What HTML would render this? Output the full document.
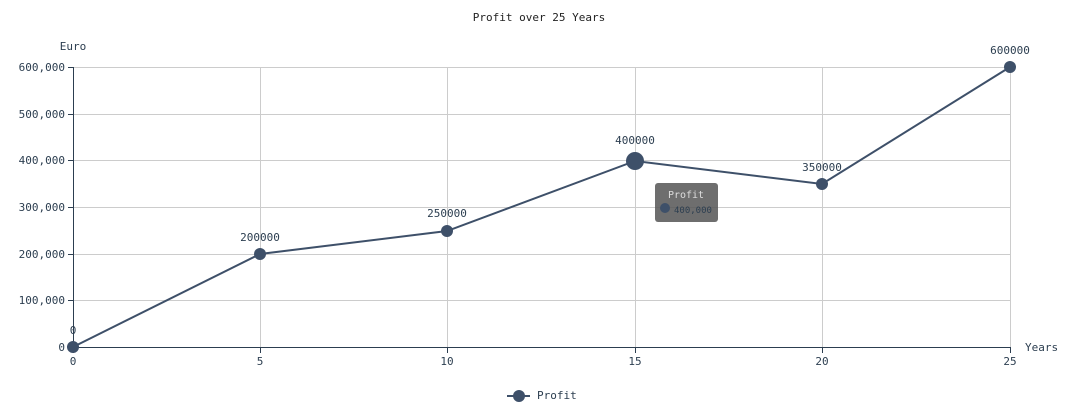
<!DOCTYPE html>
<html><head><meta charset="utf-8"><style>
body{margin:0;background:#fff}
svg{display:block;font-family:"DejaVu Sans Mono","Liberation Mono",monospace}
</style></head><body>
<svg width="1078" height="416" viewBox="0 0 1078 416">
<text x="539" y="21" font-size="11" text-anchor="middle" fill="#222">Profit over 25 Years</text>
<text x="73" y="50" font-size="11" text-anchor="middle" fill="#2c3e50">Euro</text>
<text x="1025" y="351" font-size="11" fill="#2c3e50">Years</text>
<g stroke="#ccc" stroke-width="1">
<line x1="73" y1="67.5" x2="1010" y2="67.5"/><line x1="73" y1="114.5" x2="1010" y2="114.5"/>
<line x1="73" y1="160.5" x2="1010" y2="160.5"/><line x1="73" y1="207.5" x2="1010" y2="207.5"/>
<line x1="73" y1="254.5" x2="1010" y2="254.5"/><line x1="73" y1="300.5" x2="1010" y2="300.5"/>
<line x1="260.5" y1="67" x2="260.5" y2="347"/><line x1="447.5" y1="67" x2="447.5" y2="347"/>
<line x1="635.5" y1="67" x2="635.5" y2="347"/><line x1="822.5" y1="67" x2="822.5" y2="347"/>
<line x1="1010.5" y1="67" x2="1010.5" y2="347"/>
</g>
<g stroke="#2c3e50" stroke-width="1">
<line x1="73.5" y1="67" x2="73.5" y2="348"/><line x1="73" y1="347.5" x2="1010" y2="347.5"/>
<line x1="68" y1="67.5" x2="73" y2="67.5"/><line x1="68" y1="114.5" x2="73" y2="114.5"/>
<line x1="68" y1="160.5" x2="73" y2="160.5"/><line x1="68" y1="207.5" x2="73" y2="207.5"/>
<line x1="68" y1="254.5" x2="73" y2="254.5"/><line x1="68" y1="300.5" x2="73" y2="300.5"/>
<line x1="68" y1="347.5" x2="73" y2="347.5"/>
<line x1="73.5" y1="347" x2="73.5" y2="353"/><line x1="260.5" y1="347" x2="260.5" y2="353"/>
<line x1="447.5" y1="347" x2="447.5" y2="353"/><line x1="635.5" y1="347" x2="635.5" y2="353"/>
<line x1="822.5" y1="347" x2="822.5" y2="353"/><line x1="1010.5" y1="347" x2="1010.5" y2="353"/>
</g>
<g font-size="11" fill="#2c3e50" text-anchor="end">
<text x="65" y="71">600,000</text><text x="65" y="118">500,000</text><text x="65" y="164">400,000</text>
<text x="65" y="211">300,000</text><text x="65" y="258">200,000</text><text x="65" y="304">100,000</text>
<text x="65" y="351">0</text>
</g>
<g font-size="11" fill="#2c3e50" text-anchor="middle">
<text x="73" y="365">0</text><text x="260" y="365">5</text><text x="447" y="365">10</text>
<text x="635" y="365">15</text><text x="822" y="365">20</text><text x="1010" y="365">25</text>
</g>
<polyline points="73,347 260,254 447,231 635,161 822,184 1010,67" fill="none" stroke="#3e5069" stroke-width="2"/>
<g fill="#3e5069">
<circle cx="73" cy="347" r="6"/><circle cx="260" cy="254" r="6"/><circle cx="447" cy="231" r="6"/>
<circle cx="635" cy="161" r="9"/><circle cx="822" cy="184" r="6"/><circle cx="1010" cy="67" r="6"/>
</g>
<g font-size="11" fill="#2c3e50" text-anchor="middle">
<text x="73" y="334">0</text><text x="260" y="241">200000</text><text x="447" y="217">250000</text>
<text x="635" y="144">400000</text><text x="822" y="171">350000</text><text x="1010" y="54">600000</text>
</g>
<rect x="655" y="183" width="63" height="39" rx="3" fill="#555" fill-opacity="0.85"/>
<text x="686" y="198" font-size="10" fill="#ddd" text-anchor="middle">Profit</text>
<circle cx="665" cy="208" r="5" fill="#3e5069"/>
<text x="674" y="213" font-size="9" fill="#2c3e50">400,000</text>
<line x1="507" y1="396" x2="530" y2="396" stroke="#3e5069" stroke-width="2"/>
<circle cx="519" cy="396" r="6" fill="#3e5069"/>
<text x="537" y="399" font-size="11" fill="#2c3e50">Profit</text>
</svg>
</body></html>
